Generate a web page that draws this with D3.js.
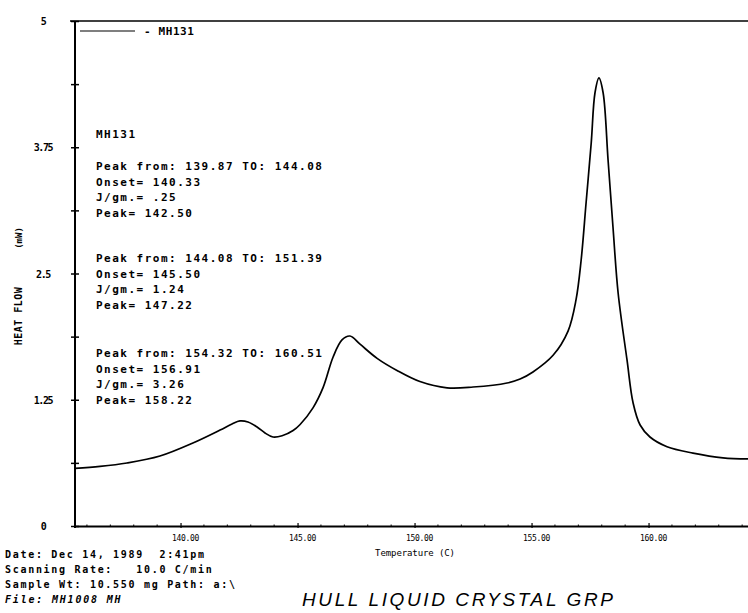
<!DOCTYPE html>
<html>
<head>
<meta charset="utf-8">
<script src="https://cdn.jsdelivr.net/npm/d3@7"></script>
<style>
body { margin: 0; background: #fff; }
text { font-family: "DejaVu Sans Mono", monospace; fill: #000; white-space: pre; }
</style>
</head>
<body>
<div id="chart"></div>
<script>
// heat flow curve (temperature C, heat flow mW)
var temps = [135.49, 136.56, 137.71, 139.12, 140.53, 141.69, 142.20, 142.54, 142.88, 143.27,
  143.61, 143.95, 144.34, 144.81, 145.11, 145.66, 146.09, 146.52, 146.90, 147.24,
  147.67, 148.40, 149.25, 150.23, 151.39, 152.50, 153.95, 154.51, 155.06, 155.92,
  156.56, 156.90, 157.12, 157.33, 157.55, 157.71, 157.88, 158.06, 158.27, 158.48,
  158.70, 159.08, 159.34, 159.64, 160.06, 160.79, 161.90, 163.18, 164.25];
var heatFlow = [0.570, 0.590, 0.624, 0.693, 0.822, 0.950, 1.010, 1.040, 1.030, 0.980,
  0.921, 0.881, 0.893, 0.945, 1.005, 1.170, 1.370, 1.673, 1.842, 1.881,
  1.800, 1.660, 1.540, 1.430, 1.368, 1.376, 1.416, 1.455, 1.525, 1.690,
  1.930, 2.238, 2.634, 3.198, 3.792, 4.287, 4.436, 4.287, 3.624, 2.960,
  2.307, 1.644, 1.218, 1.000, 0.881, 0.785, 0.722, 0.675, 0.665];

var xTicks = [140, 145, 150, 155, 160];
var xMinor = [136, 137, 138, 139, 141, 142, 143, 144, 146, 147, 148, 149, 151, 152, 153, 154, 156, 157, 158, 159, 161, 162, 163, 164];
var yTicks = [0, 1.25, 2.5, 3.75, 5];
var yMinor = [0.625, 1.875, 3.125, 4.375];
var yTickLabels = ["0", "1.25", "2.5", "3.75", "5"];

var sampleName = "MH131";
var peakNotes = [
  ["Peak from: 139.87 TO: 144.08", "Onset= 140.33", "J/gm.= .25", "Peak= 142.50"],
  ["Peak from: 144.08 TO: 151.39", "Onset= 145.50", "J/gm.= 1.24", "Peak= 147.22"],
  ["Peak from: 154.32 TO: 160.51", "Onset= 156.91", "J/gm.= 3.26", "Peak= 158.22"]
];
var runInfo = ["Date: Dec 14, 1989  2:41pm", "Scanning Rate:   10.0 C/min", "Sample Wt: 10.550 mg Path: a:\\"];
var fileName = "File: MH1008 MH";
var title = "HULL LIQUID CRYSTAL GRP";

var svgWidth = 748, svgHeight = 613;
var plot = { left: 75, right: 748, top: 21, bottom: 526 };

var svg = d3.select("#chart").append("svg")
  .attr("width", svgWidth)
  .attr("height", svgHeight);

var x = d3.scaleLinear().domain([135.49, 164.25]).range([plot.left, plot.right]);
var y = d3.scaleLinear().domain([0, 5]).range([plot.bottom, plot.top]);

// frame: top line, left axis
svg.append("line")
  .attr("x1", plot.left - 5).attr("x2", plot.right)
  .attr("y1", plot.top).attr("y2", plot.top)
  .attr("stroke", "#000").attr("stroke-width", 1.5);

var yAxis = svg.append("g")
  .attr("transform", `translate(${plot.left},0)`)
  .call(d3.axisLeft(y).tickValues(yTicks.concat(yMinor)).tickSize(0).tickFormat(""));
yAxis.select(".domain").attr("stroke-width", 2).attr("d", `M0,${plot.top}V${plot.bottom + 2}`);
yAxis.selectAll(".tick line").attr("x1", -4).attr("x2", 4).attr("stroke-width", 1.5);

svg.append("g").selectAll("text")
  .data(yTicks)
  .enter()
  .append("text")
  .attr("x", 43)
  .attr("y", d => y(d) + 4)
  .attr("text-anchor", "middle")
  .style("font-size", "10px")
  .style("font-weight", "bold")
  .style("letter-spacing", "-1.4px")
  .text((d, i) => yTickLabels[i]);

// x axis
var xAxis = svg.append("g")
  .attr("transform", `translate(0,${plot.bottom})`)
  .call(d3.axisBottom(x).tickValues(xTicks).tickSize(0).tickFormat(""));
xAxis.select(".domain").attr("stroke-width", 1.8);
xAxis.selectAll(".tick line").attr("y1", -3).attr("y2", 2).attr("stroke-width", 1.2);
xAxis.append("g").selectAll("line")
  .data(xMinor)
  .enter()
  .append("line")
  .attr("x1", d => x(d)).attr("x2", d => x(d))
  .attr("y1", -1.5).attr("y2", 0)
  .attr("stroke", "#000");

svg.append("g").selectAll("text")
  .data(xTicks)
  .enter()
  .append("text")
  .attr("x", d => x(d) + 5)
  .attr("y", plot.bottom + 15)
  .attr("text-anchor", "middle")
  .style("font-size", "8px")
  .style("letter-spacing", "-0.3px")
  .text(d => d.toFixed(2));

svg.append("text")
  .attr("x", 415)
  .attr("y", plot.bottom + 30)
  .attr("text-anchor", "middle")
  .style("font-size", "9px")
  .style("letter-spacing", "-0.1px")
  .text("Temperature (C)");

// y axis title
svg.append("text")
  .attr("transform", "translate(22,316) rotate(-90)")
  .attr("text-anchor", "middle")
  .style("font-size", "10px")
  .style("font-weight", "bold")
  .style("letter-spacing", "0.5px")
  .text("HEAT FLOW");
svg.append("text")
  .attr("transform", "translate(22,238) rotate(-90)")
  .attr("text-anchor", "middle")
  .style("font-size", "9px")
  .style("font-weight", "bold")
  .text("(mW)");

// curve
var pts = temps.map((t, i) => [t, heatFlow[i]]);
var line = d3.line()
  .x(d => x(d[0]))
  .y(d => y(d[1]))
  .curve(d3.curveCatmullRom.alpha(0.5));

svg.append("path")
  .datum(pts)
  .attr("d", line)
  .attr("fill", "none")
  .attr("stroke", "#000")
  .attr("stroke-width", 1.7);

// legend
svg.append("line")
  .attr("x1", 80).attr("x2", 135)
  .attr("y1", 31).attr("y2", 31)
  .attr("stroke", "#000").attr("stroke-width", 1.2);
svg.append("text")
  .attr("x", 144)
  .attr("y", 35)
  .style("font-size", "11px")
  .style("font-weight", "bold")
  .style("letter-spacing", "0.6px")
  .text("- " + sampleName);

// annotations
var notes = svg.append("g")
  .style("font-size", "11px")
  .style("font-weight", "bold")
  .style("letter-spacing", "1.5px");

notes.append("text").attr("x", 96).attr("y", 138).text(sampleName);

var blockTop = [170, 262, 357];
peakNotes.forEach(function(block, b) {
  block.forEach(function(s, i) {
    notes.append("text")
      .attr("x", 96)
      .attr("y", blockTop[b] + i * 15.5)
      .text(s);
  });
});

// run info
var info = svg.append("g")
  .style("font-size", "10px")
  .style("font-weight", "bold")
  .style("letter-spacing", "1.7px");
runInfo.forEach(function(s, i) {
  info.append("text").attr("x", 5).attr("y", 558 + i * 15).text(s);
});
info.append("text")
  .attr("x", 5).attr("y", 603)
  .style("font-style", "italic")
  .style("letter-spacing", "1.8px")
  .text(fileName);

svg.append("text")
  .attr("x", 302)
  .attr("y", 606)
  .style("font-family", "'Liberation Sans', sans-serif")
  .style("font-style", "italic")
  .style("font-size", "19px")
  .style("letter-spacing", "2.6px")
  .text(title);
</script>
</body>
</html>
